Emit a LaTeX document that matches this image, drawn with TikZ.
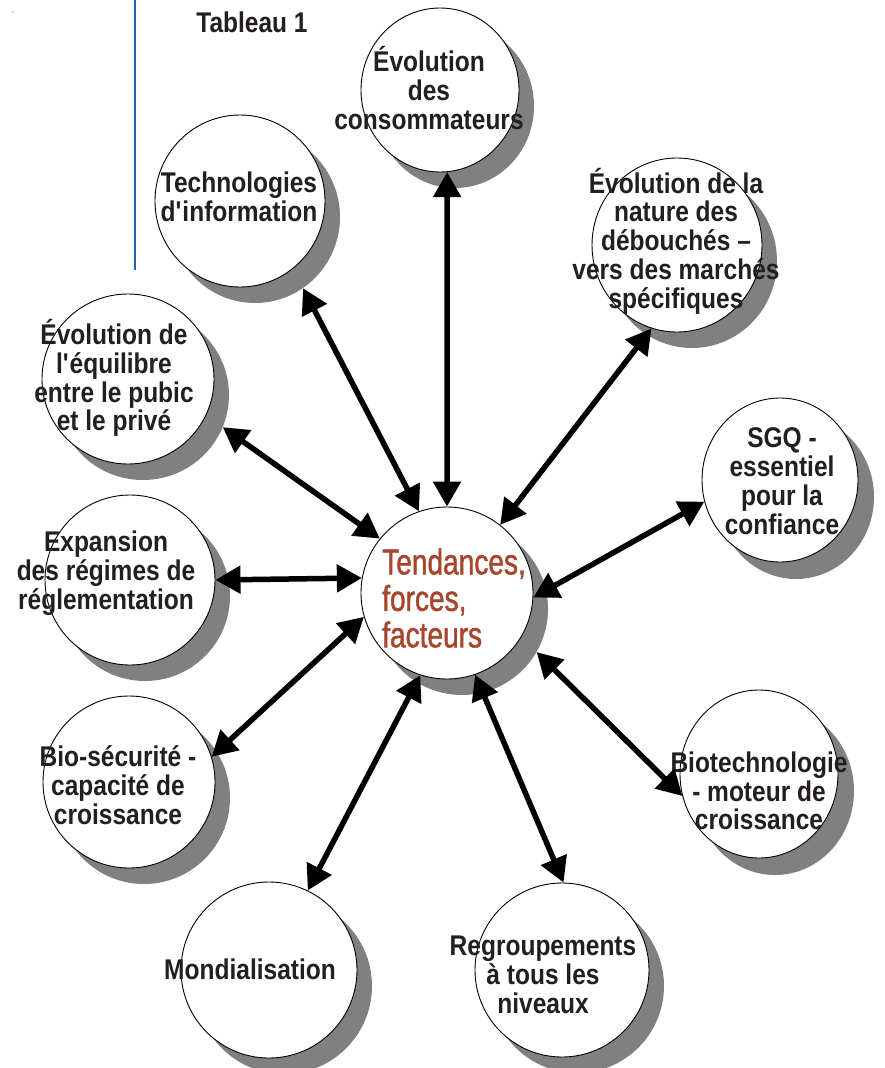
\documentclass[tikz,border=0pt]{standalone}
\usepackage{fontspec}
\setmainfont{Liberation Sans}
\newfontfamily\labfont{Liberation Sans}[FakeStretch=0.86]
\newfontfamily\cenfont{Liberation Sans}[FakeStretch=0.78,FakeBold=1.2]
\usetikzlibrary{shapes.geometric,arrows.meta}
\definecolor{shadowgray}{RGB}{128,128,128}
\definecolor{rust}{RGB}{168,70,45}
\definecolor{rulerblue}{RGB}{35,100,180}
\definecolor{ink}{RGB}{35,31,32}
\begin{document}
\begin{tikzpicture}[x=1pt,y=-1pt,
  bubble/.style={ellipse,draw=black,line width=0.9pt,fill=white,inner sep=0pt},
  shade/.style={ellipse,fill=shadowgray,draw=none,inner sep=0pt},
  lab/.style={align=center,inner sep=0pt,text=ink,font=\labfont\bfseries\fontsize{28.5}{28.8}\selectfont},
  ctr/.style={align=left,inner sep=0pt,text=rust,font=\cenfont\fontsize{36}{36.5}\selectfont},
  link/.style={line width=5.5pt,{Triangle[length=25pt,width=27pt]}-{Triangle[length=25pt,width=27pt]}}
]
\useasboundingbox (0,0) rectangle (885,1068);
\fill[white] (0,0) rectangle (885,1068);

% decorations
\draw[rulerblue,line width=2pt] (135,0) -- (135,270);
\fill[black!60] (13,12) circle (0.7);
\node[lab] (title) at (252,22) {Tableau 1};

% shadows
\node[shade,minimum width=158pt,minimum height=164pt] (consS) at (455,106) {};
\node[shade,minimum width=170pt,minimum height=172pt] (techS) at (255,217) {};
\node[shade,minimum width=170pt,minimum height=174pt] (deboS) at (692,261) {};
\node[shade,minimum width=172pt,minimum height=170pt] (equiS) at (143,395) {};
\node[shade,minimum width=156pt,minimum height=164pt] (sgqS) at (796,497) {};
\node[shade,minimum width=170pt,minimum height=170pt] (expaS) at (145,596) {};
\node[shade,minimum width=172pt,minimum height=172pt] (centS) at (462,609) {};
\node[shade,minimum width=172pt,minimum height=172pt] (bioS) at (144,798) {};
\node[shade,minimum width=158pt,minimum height=168pt] (biotS) at (775,791) {};
\node[shade,minimum width=176pt,minimum height=176pt] (mondS) at (284,986) {};
\node[shade,minimum width=174pt,minimum height=174pt] (regrS) at (577,986) {};

% bubbles
\node[bubble,minimum width=158pt,minimum height=164pt] (cons) at (440,90) {};
\node[bubble,minimum width=170pt,minimum height=172pt] (tech) at (240,201) {};
\node[bubble,minimum width=170pt,minimum height=174pt] (debo) at (677,245) {};
\node[bubble,minimum width=172pt,minimum height=170pt] (equi) at (128,379) {};
\node[bubble,minimum width=156pt,minimum height=164pt] (sgq) at (780,480) {};
\node[bubble,minimum width=170pt,minimum height=170pt] (expa) at (130,580) {};
\node[bubble,minimum width=172pt,minimum height=172pt] (cent) at (447,593) {};
\node[bubble,minimum width=172pt,minimum height=172pt] (bio) at (129,782) {};
\node[bubble,minimum width=158pt,minimum height=168pt] (biot) at (759,774) {};
\node[bubble,minimum width=176pt,minimum height=176pt] (mond) at (269,970) {};
\node[bubble,minimum width=174pt,minimum height=174pt] (regr) at (562,970) {};

% texts
\node[lab] (consT) at (429,88) {Évolution\\des\\consommateurs};
\node[lab] (techT) at (239,197) {Technologies\\d\textquotesingle information};
\node[lab] (deboT) at (676,241) {Évolution de la\\nature des\\débouchés –\\vers des marchés\\spécifiques};
\node[lab] (equiT) at (114,378) {Évolution de\\l\textquotesingle équilibre\\entre le pubic\\et le privé};
\node[lab] (sgqT) at (782,481) {SGQ -\\essentiel\\pour la\\confiance};
\node[lab] (expaT) at (106,573) {Expansion\\des régimes de\\réglementation};
\node[lab] (bioT) at (118,785) {Bio-sécurité -\\capacité de\\croissance};
\node[lab] (biotT) at (759,791) {Biotechnologie\\- moteur de\\croissance};
\node[lab] (mondT) at (250,969) {Mondialisation};
\node[lab] (regrT) at (543,975) {Regroupements\\à tous les\\niveaux};
\node[ctr,anchor=west] (centT) at (382,598) {Tendances,\\forces,\\facteurs};

% connectors
\draw[link] (cons.-85) -- (cent.90);
\draw[link] (techS.-56) -- (cent.109);
\draw[link] (debo.-107) -- (cent.52);
\draw[link] (sgq.-164) -- (cent.-3);
\draw[link] (equiS.-22) -- (cent.141);
\draw[link] (expa.0) -- (cent.170);
\draw[link] (bio.17) -- (cent.196);
\draw[link] (mond.64) -- (cent.-108);
\draw[link] (regr.89) -- (cent.-71);
\draw[link] (biot.196) -- (centS.-30);
\end{tikzpicture}
\end{document}
